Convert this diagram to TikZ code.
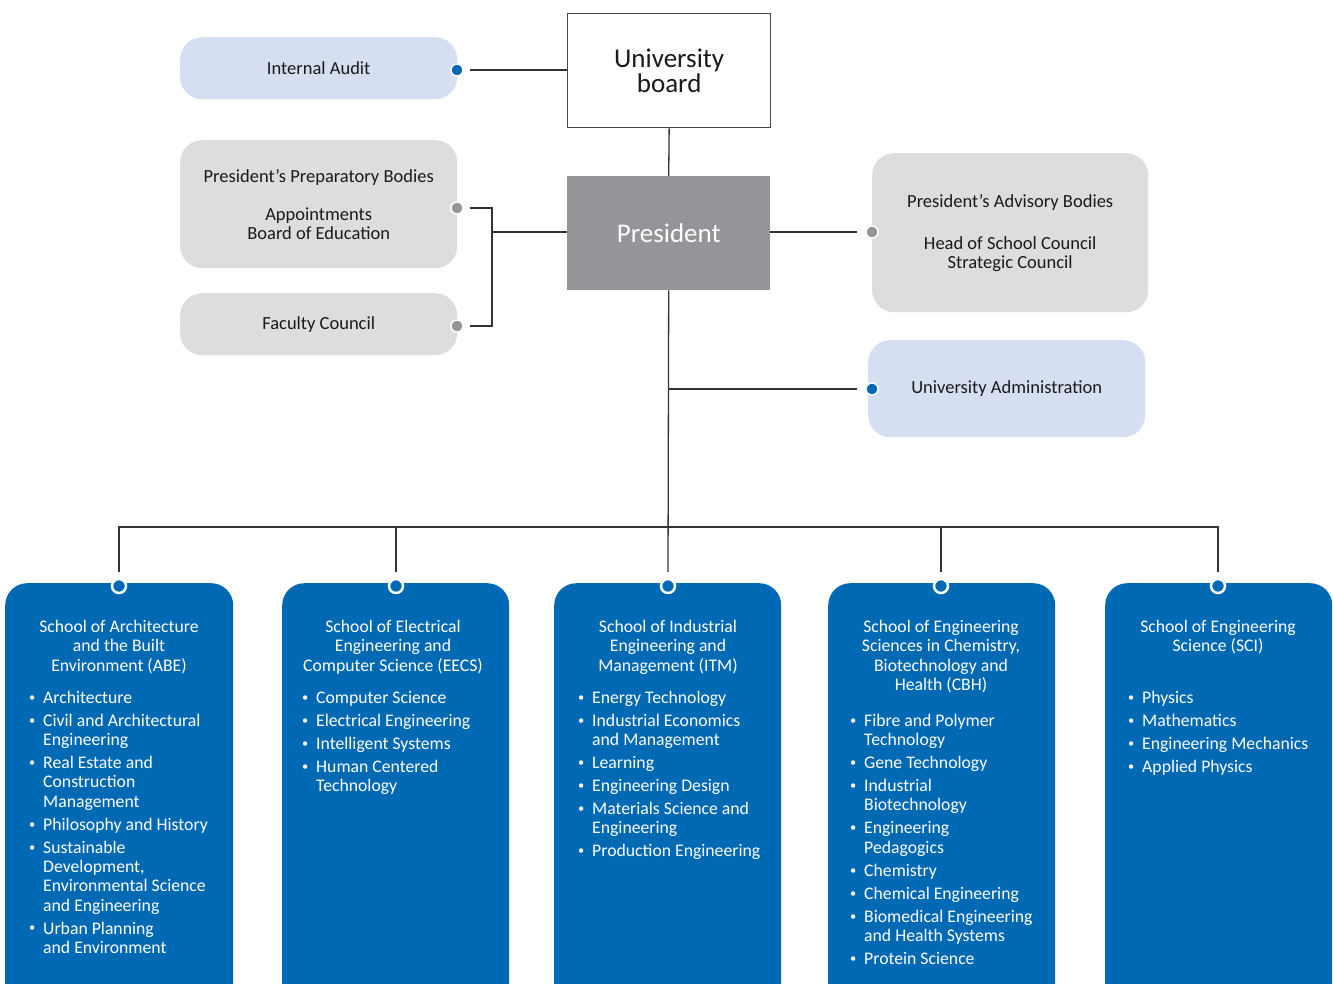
\documentclass[tikz,border=0pt]{standalone}
\usepackage{fontspec}
\setmainfont{Carlito}
\definecolor{lblue}{HTML}{D6DEF2}
\definecolor{lgray}{HTML}{DCDDDF}
\definecolor{pgray}{HTML}{939598}
\definecolor{kth}{HTML}{0069B4}
\definecolor{linec}{HTML}{333333}
\definecolor{txt}{HTML}{1A1A1A}
\newcommand{\bi}[1]{\makebox[15pt][l]{\hspace{1pt}\raisebox{0.25ex}{\scalebox{0.7}{\textbullet}}}#1}
\newcommand{\ci}[1]{\hspace*{15pt}#1}
\begin{document}
\begin{tikzpicture}[x=1pt,y=-1pt,
  conn/.style={draw=linec, line width=1.3pt},
  lightbox/.style={fill=lblue, rounded corners=22pt, inner sep=0pt, anchor=north west, text=txt, align=center, font=\fontsize{18.5}{19}\selectfont},
  graybox/.style={fill=lgray, rounded corners=22pt, inner sep=0pt, anchor=north west, text=txt, align=center, font=\fontsize{18.5}{19}\selectfont},
  schoolbox/.style={fill=kth, rounded corners=22pt, inner sep=0pt, anchor=north west, minimum height=440pt},
  bdot/.style={circle, inner sep=0pt, minimum size=12pt, draw=white, line width=1.5pt, fill=kth},
  gdot/.style={circle, inner sep=0pt, minimum size=12pt, draw=white, line width=1.5pt, fill=pgray},
  ring/.style={circle, inner sep=0pt, minimum size=14pt, draw=white, line width=2.5pt, fill=kth},
  title/.style={text=white, align=center, anchor=north, inner sep=0pt, font=\fontsize{17.7}{19.5}\selectfont},
  list/.style={text=white, align=left, anchor=north west, inner sep=0pt, font=\fontsize{17.7}{19.3}\selectfont},
]
\useasboundingbox (0,0) rectangle (1333,983);
\fill[white] (0,0) rectangle (1333,983);

% top boxes
\node[lightbox, minimum width=277pt, minimum height=62pt] (audit) at (180,37) {Internal Audit};
\node[draw=linec!90, line width=1.3pt, fill=white, minimum width=203pt, minimum height=114pt, anchor=north west, inner sep=0pt, align=center, text=txt, font=\fontsize{27}{25}\selectfont] (board) at (567,13) {University\\board};
\node[fill=pgray, minimum width=203pt, minimum height=114pt, anchor=north west, inner sep=0pt, text=white, font=\fontsize{27}{25}\selectfont] (president) at (567,176) {President};
\node[graybox, minimum width=277pt, minimum height=128pt] (prep) at (180,140) {President’s Preparatory Bodies\\[19pt]Appointments\\Board of Education};
\node[graybox, minimum width=277pt, minimum height=62pt] (fac) at (180,293) {Faculty Council};
\node[graybox, minimum width=276pt, minimum height=159pt] (adv) at (872,153) {President’s Advisory Bodies\\[23pt]Head of School Council\\Strategic Council};
\node[lightbox, minimum width=277pt, minimum height=97pt] (adm) at (868,340) {University Administration};

% dots
\node[bdot] (auditdot) at (457,70) {};
\node[gdot] (prepdot) at (457,208) {};
\node[gdot] (facdot) at (457,326) {};
\node[gdot] (advdot) at (872,232) {};
\node[bdot] (admdot) at (872,389) {};

% school boxes
\node[schoolbox, minimum width=228pt] (abe) at (5,583) {};
\node[schoolbox, minimum width=227pt] (eecs) at (282,583) {};
\node[schoolbox, minimum width=227pt] (itm) at (554,583) {};
\node[schoolbox, minimum width=227pt] (cbh) at (828,583) {};
\node[schoolbox, minimum width=227pt] (sci) at (1105,583) {};

\node[ring] (abedot) at (119,586) {};
\node[ring] (eecsdot) at (396,586) {};
\node[ring] (itmdot) at (668,586) {};
\node[ring] (cbhdot) at (941,586) {};
\node[ring] (scidot) at (1218,586) {};

% connectors
\coordinate (bus) at (668,527);
\coordinate (brk) at (492,232);
\draw[conn] ([xshift=6pt]auditdot.east) -- (board.west |- auditdot);
\draw[conn] (board.south) -- (president.north);
\draw[conn] ([xshift=6pt]prepdot.east) -| (brk |- facdot) -- ([xshift=6pt]facdot.east);
\draw[conn] (brk) -- (president.west |- brk);
\draw[conn] (president.east |- advdot) -- ([xshift=-8pt]advdot.west);
\draw[conn] (president.south |- admdot) -- ([xshift=-8pt]admdot.west);
\draw[conn] (president.south) -- ([yshift=6pt]itmdot.north);
\draw[conn] ([yshift=6pt]abedot.north) |- (bus) -| ([yshift=6pt]scidot.north);
\draw[conn] ([yshift=6pt]eecsdot.north) -- (eecsdot.north |- bus);
\draw[conn] ([yshift=6pt]cbhdot.north) -- (cbhdot.north |- bus);

% school titles
\node[title] (abeT) at (119,618.35) {\strut School of Architecture\\and the Built\\Environment (ABE)};
\node[title] (eecsT) at (393,618.35) {\strut School of Electrical\\Engineering and\\Computer Science (EECS)};
\node[title] (itmT) at (668,618.35) {\strut School of Industrial\\Engineering and\\Management (ITM)};
\node[title] (cbhT) at (941,618.35) {\strut School of Engineering\\Sciences in Chemistry,\\Biotechnology and\\Health (CBH)};
\node[title] (sciT) at (1218,618.35) {\strut School of Engineering\\Science (SCI)};

% lists
\node[list] (abeL) at (28,689.5) {\strut\bi{Architecture}\\[3.7pt]\bi{Civil and Architectural}\\\ci{Engineering}\\[3.7pt]\bi{Real Estate and}\\\ci{Construction}\\\ci{Management}\\[3.7pt]\bi{Philosophy and History}\\[3.7pt]\bi{Sustainable}\\\ci{Development,}\\\ci{Environmental Science}\\\ci{and Engineering}\\[3.7pt]\bi{Urban Planning}\\\ci{and Environment}};
\node[list] (eecsL) at (301,689.5) {\strut\bi{Computer Science}\\[3.7pt]\bi{Electrical Engineering}\\[3.7pt]\bi{Intelligent Systems}\\[3.7pt]\bi{Human Centered}\\\ci{Technology}};
\node[list] (itmL) at (577,689.5) {\strut\bi{Energy Technology}\\[3.7pt]\bi{Industrial Economics}\\\ci{and Management}\\[3.7pt]\bi{Learning}\\[3.7pt]\bi{Engineering Design}\\[3.7pt]\bi{Materials Science and}\\\ci{Engineering}\\[3.7pt]\bi{Production Engineering}};
\node[list] (cbhL) at (849,712.5) {\strut\bi{Fibre and Polymer}\\\ci{Technology}\\[3.7pt]\bi{Gene Technology}\\[3.7pt]\bi{Industrial}\\\ci{Biotechnology}\\[3.7pt]\bi{Engineering}\\\ci{Pedagogics}\\[3.7pt]\bi{Chemistry}\\[3.7pt]\bi{Chemical Engineering}\\[3.7pt]\bi{Biomedical Engineering}\\\ci{and Health Systems}\\[3.7pt]\bi{Protein Science}};
\node[list] (sciL) at (1127,689.5) {\strut\bi{Physics}\\[3.7pt]\bi{Mathematics}\\[3.7pt]\bi{Engineering Mechanics}\\[3.7pt]\bi{Applied Physics}};
\end{tikzpicture}
\end{document}
